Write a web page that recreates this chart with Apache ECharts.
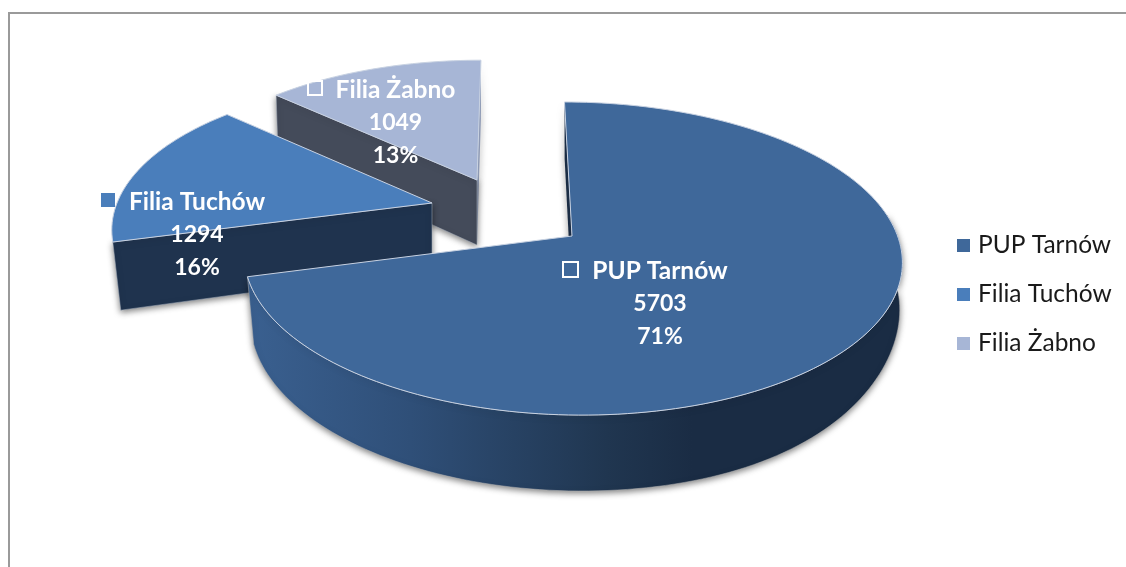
<!DOCTYPE html>
<html><head><meta charset="utf-8">
<style>html,body{margin:0;padding:0;background:#fff}#c{width:1126px;height:567px}</style>
<script src="https://cdn.jsdelivr.net/npm/echarts@6/dist/echarts.min.js"></script>
</head><body><div id="c"></div>
<script>
const categories = ['PUP Tarnów', 'Filia Tuchów', 'Filia Żabno'];
const values = [5703, 1294, 1049];
const topColors = ['#3f689a', '#4a7ebb', '#a7b6d6'];
const wallColors = ['#1a2c44', '#1f334e', '#444b5a'];

// Perspective of each exploded slice (pixels): apex, radii, foreshortening, skew.
const layouts = [
  {ax:572, ay:236, A:325.6, B:153.3, k:0.144, skew:0.056, conv:0.981, label:[660,271], mark:[563,262,15,'none','#fff']},
  {ax:432, ay:203, A:315,   B:145.5, k:0.18,  skew:0,     conv:0.975, label:[197,202], mark:[101,193,14,'#4a7ebb','none']},
  {ax:477, ay:180, A:303,   B:135,   k:0.127, skew:-0.033,conv:0.99,  label:[395.5,90],  mark:[308,81,14,'none','#fff']}
];
const DEPTH = 65;
const total = values.reduce((a, b) => a + b, 0);
const starts = values.map((_, i) => values.slice(0, i).reduce((a, b) => a + b, 0) / total * 360);

function pt(l, deg, low) {
  const t = deg * Math.PI / 180, den = 1 + l.k * Math.cos(t);
  const s = Math.sin(t);
  const X = l.A * s / den, Y = -l.B * Math.cos(t) / den;
  const x = X + l.skew * Y;
  const conv = s > 0 ? 0.992 : l.conv;
  const thin = s > 0 ? 1 - 0.31 * s * s * s * s : 1;
  return [l.ax + x * (low ? conv : 1), l.ay + Y + (low ? DEPTH / den * thin : 0)];
}
function arc(l, a, b, low) {
  const n = Math.max(2, Math.ceil(Math.abs(b - a) / 1.5)), out = [];
  for (let i = 0; i <= n; i++) out.push(pt(l, a + (b - a) * i / n, low));
  return out;
}
const shadow = {shadowBlur: 6, shadowColor: 'rgba(0,0,0,0.5)', shadowOffsetX: 0, shadowOffsetY: 2};
const edge = '#c8d2e2';

function render(i) {
  return function (params, api) {
    const v = api.value(0), l = layouts[i];
    const a0 = starts[i], a1 = a0 + v / total * 360;
    const apex = [l.ax, l.ay], apexLow = [l.ax, l.ay + DEPTH];
    const kids = [];
    const poly = (points, style) => kids.push({type: 'polygon', shape: {points}, style});
    if (i === 0) {
      // start-edge sliver, outer rim
      poly([pt(l,a0), apex, apexLow, pt(l,a0,true)], Object.assign({fill: wallColors[0]}, shadow));
      poly(arc(l,82,a1).concat(arc(l,82,a1,true).reverse()), Object.assign({
        fill: {type:'linear', x:247, y:0, x2:902, y2:0, global:true, colorStops:[
          {offset:0, color:'#3a6090'},{offset:0.25, color:'#2f4f78'},
          {offset:0.55, color:'#203650'},{offset:0.68, color:wallColors[0]},{offset:1, color:wallColors[0]}]},
        stroke: '#b8b8b8', lineWidth: 0.5}, shadow));
    }
    if (i === 1) {
      poly([apex, pt(l,a0), pt(l,a0,true), apexLow], Object.assign({fill: wallColors[1], stroke:'#aab4c2', lineWidth:0.5}, shadow));
    }
    if (i === 2) {
      poly([pt(l,a1), apex, apexLow, pt(l,a1,true)], Object.assign({fill: '#8d99b4'}, shadow));
      poly([apex, pt(l,a0), pt(l,a0,true), apexLow], Object.assign({fill: wallColors[2], stroke:'#aab4c2', lineWidth:0.5}, shadow));
    }
    poly([apex].concat(arc(l,a0,a1)), {fill: topColors[i], stroke: edge, lineWidth: 1, lineJoin:'round'});

    // label
    const pct = Math.round(v / total * 100) + '%';
    [categories[i], String(v), pct].forEach((t, r) => {
      kids.push({type:'text', z2: 20, style:{text:t, x:l.label[0], y:l.label[1] + r*33, fill:'#fff',
        font: (r === 0 ? 'bold 24.5px Lato' : 'bold 23px Lato'), align:'center', verticalAlign:'middle'}});
    });
    const m = l.mark;
    kids.push({type:'rect', z2: 20, shape:{x:m[0], y:m[1], width:m[2], height:m[2]}, style:{fill:m[3], stroke:m[4], lineWidth:2}});
    return {type:'group', children:kids};
  };
}

const chart = echarts.init(document.getElementById('c'), null, {renderer:'canvas'});
chart.setOption({
  animation: false,
  backgroundColor: '#fff',
  graphic: [{type:'polyline', silent:true, shape:{points:[[9,567],[9,13],[1126,13]]}, style:{stroke:'#9a9a9a', fill:'none', lineWidth:2}}],
  legend: {
    show: true, orient:'vertical', left:957, top:233, padding:0, itemWidth:13, itemHeight:13, itemGap:24, icon:'rect',
    textStyle:{fontFamily:'Lato', fontSize:24.5, color:'#1a1a1a', padding:[0,0,0,3], lineHeight:24},
    data: categories
  },
  series: categories.map((name, i) => ({
    type:'custom', name, coordinateSystem:'none', z: 4 - i,
    itemStyle:{color: topColors[i]},
    data:[[values[i]]], encode:{value:0}, silent:true,
    renderItem: render(i)
  }))
});
</script></body></html>
